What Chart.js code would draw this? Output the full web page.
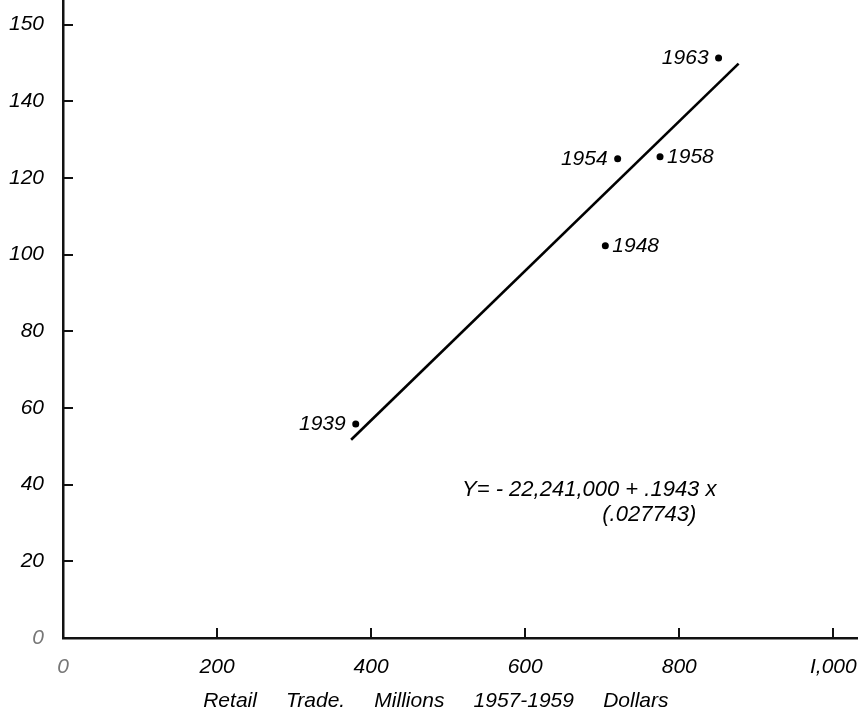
<!DOCTYPE html>
<html>
<head>
<meta charset="utf-8">
<script src="https://cdn.jsdelivr.net/npm/chart.js@4.4.1/dist/chart.umd.min.js"></script>
<style>
  html, body { margin: 0; padding: 0; background: #fff; }
  #wrap { width: 858px; height: 717px; position: relative; }
  canvas { display: block; }
</style>
</head>
<body>
<div id="wrap"><canvas id="c" width="858" height="717"></canvas></div>
<script>
// Retail trade (millions, 1957-1959 dollars) against the dependent series, by census year
const years   = ['1939', '1948', '1954', '1958', '1963'];
const retail  = [380, 704, 720, 775, 851];
const yValues = [55.8, 102.3, 125, 125.5, 151.3];

// Fitted line endpoints
const fitX = [374, 877];
const fitY = [51.7, 149.8];

// Axis ticks
const xTickValues = [0, 200, 400, 600, 800, 1000];
const xTickLabels = ['0', '200', '400', '600', '800', 'I,000'];
const yTickValues = [0, 20, 40, 60, 80, 100, 120, 140, 160];
const yTickLabels = ['0', '20', '40', '60', '80', '100', '120', '140', '150'];

const equationLine1 = 'Y= - 22,241,000 + .1943 x';
const equationLine2 = '(.027743)';
const xTitle = 'Retail     Trade.     Millions     1957-1959     Dollars';

// which side of its dot each year label sits on
const labelSide = { '1939': 'left', '1948': 'right', '1954': 'left', '1958': 'right', '1963': 'left' };

const FAMILY = '"Liberation Sans", Arial, sans-serif';

// axes keep no extra margin for their outer tick labels
const noScalePadding = s => {
  s.paddingTop = 0; s.paddingBottom = 0; s.paddingLeft = 0; s.paddingRight = 0;
};

const annotations = {
  id: 'annotations',
  afterDraw(chart) {
    const { ctx, chartArea, scales } = chart;
    const xs = scales.x, ys = scales.y;
    ctx.save();
    // inward tick marks
    ctx.strokeStyle = '#111';
    ctx.lineWidth = 2;
    xTickValues.forEach(v => {
      if (v === 0) return;
      const px = Math.round(xs.getPixelForValue(v));
      ctx.beginPath();
      ctx.moveTo(px, chartArea.bottom);
      ctx.lineTo(px, chartArea.bottom - 10);
      ctx.stroke();
    });
    yTickValues.forEach(v => {
      if (v === 0) return;
      const py = Math.round(ys.getPixelForValue(v));
      ctx.beginPath();
      ctx.moveTo(chartArea.left, py);
      ctx.lineTo(chartArea.left + 10, py);
      ctx.stroke();
    });

    // year labels beside the dots
    ctx.fillStyle = '#000';
    ctx.font = 'italic 21px ' + FAMILY;
    ctx.textBaseline = 'middle';
    years.forEach((yr, i) => {
      const px = xs.getPixelForValue(retail[i]);
      const py = ys.getPixelForValue(yValues[i]);
      if (labelSide[yr] === 'left') {
        ctx.textAlign = 'right';
        ctx.fillText(yr, px - 10, py);
      } else {
        ctx.textAlign = 'left';
        ctx.fillText(yr, px + 7, py);
      }
    });

    // regression equation
    ctx.font = 'italic 22px ' + FAMILY;
    ctx.textAlign = 'left';
    ctx.fillText(equationLine1, xs.getPixelForValue(518), ys.getPixelForValue(38.6));
    ctx.fillText(equationLine2, xs.getPixelForValue(700), ys.getPixelForValue(32.1));

    // x-axis title, under the tick labels
    ctx.font = 'italic 21px ' + FAMILY;
    ctx.textAlign = 'center';
    ctx.fillText(xTitle, xs.getPixelForValue(484), xs.bottom - 16);
    ctx.restore();
  }
};

new Chart(document.getElementById('c'), {
  type: 'scatter',
  data: {
    datasets: [
      {
        data: retail.map((x, i) => ({ x, y: yValues[i] })),
        pointRadius: 3.5,
        pointBackgroundColor: '#000',
        pointBorderWidth: 0,
        showLine: false
      },
      {
        data: fitX.map((x, i) => ({ x, y: fitY[i] })),
        showLine: true,
        borderColor: '#000',
        borderWidth: 2.6,
        pointRadius: 0,
        fill: false
      }
    ]
  },
  options: {
    responsive: false,
    animation: false,
    devicePixelRatio: 1,
    layout: { padding: 0, autoPadding: false },
    plugins: { legend: { display: false }, tooltip: { enabled: false } },
    scales: {
      x: {
        type: 'linear',
        min: 0,
        max: 1032,
        afterBuildTicks: s => { s.ticks = xTickValues.map(v => ({ value: v })); },
        afterFit: s => { s.height = 79; noScalePadding(s); },
        grid: { display: false, drawTicks: false },
        border: { display: true, color: '#111', width: 2.5 },
        ticks: {
          padding: 17,
          maxRotation: 0,
          autoSkip: false,
          font: { family: FAMILY, style: 'italic', size: 21 },
          color: c => (c.tick && c.tick.value === 0 ? '#777' : '#000'),
          callback: v => xTickLabels[xTickValues.indexOf(v)]
        }
      },
      y: {
        type: 'linear',
        min: 0,
        max: 166.4,
        afterBuildTicks: s => { s.ticks = yTickValues.map(v => ({ value: v })); },
        afterFit: s => { s.width = 63; noScalePadding(s); },
        grid: { display: false, drawTicks: false },
        border: { display: true, color: '#111', width: 2.5 },
        ticks: {
          padding: 19,
          autoSkip: false,
          font: { family: FAMILY, style: 'italic', size: 21 },
          color: c => (c.tick && c.tick.value === 0 ? '#777' : '#000'),
          callback: v => yTickLabels[yTickValues.indexOf(v)]
        }
      }
    }
  },
  plugins: [annotations]
});
</script>
</body>
</html>
